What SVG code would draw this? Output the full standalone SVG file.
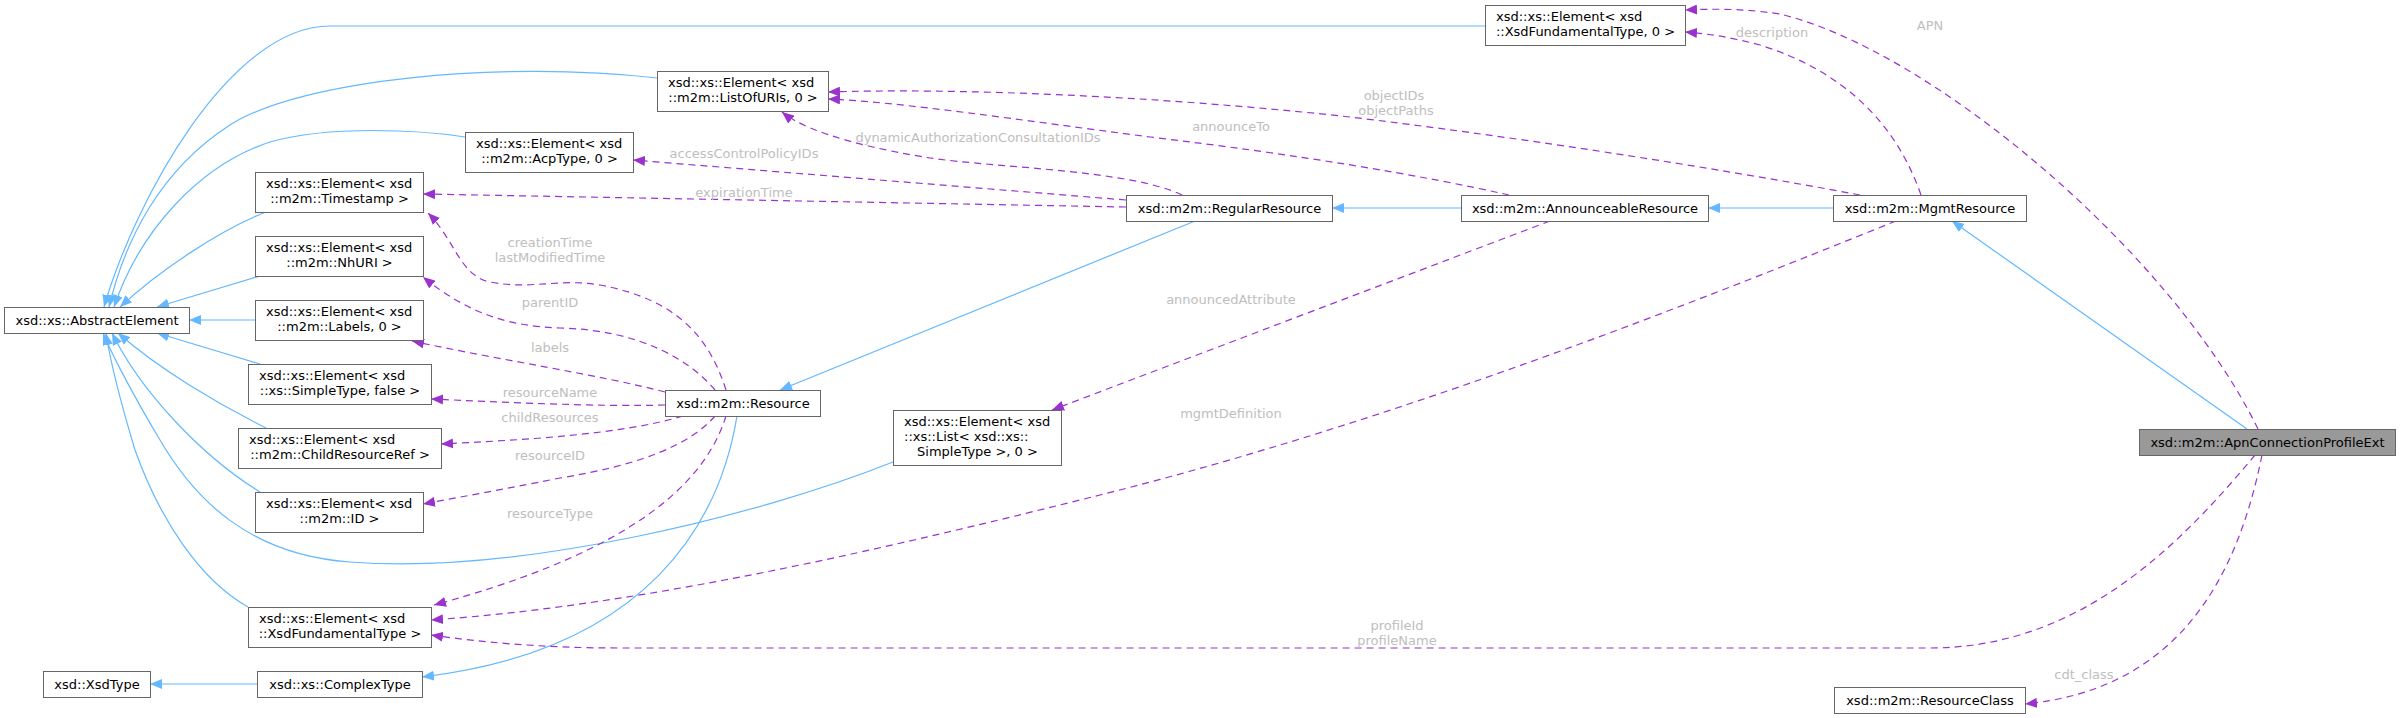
<svg xmlns="http://www.w3.org/2000/svg" width="2400" height="718" viewBox="0 0 2400 718">
<style>
.box{fill:#ffffff;stroke:#666666;stroke-width:1}
.cur{fill:#999999;stroke:#666666;stroke-width:1}
.t{font-family:"DejaVu Sans",sans-serif;font-size:13px;fill:#000000}
.m{text-anchor:middle}
.inh{fill:none;stroke:#63b8ff;stroke-width:1.2}
.use{fill:none;stroke:#9a32cd;stroke-width:1.2;stroke-dasharray:7,5}
.lbl{font-family:"DejaVu Sans",sans-serif;font-size:13px;fill:#bebebe;text-anchor:middle}
</style>
<defs>
<marker id="ab" viewBox="0 0 12 10" refX="12" refY="5" markerWidth="12" markerHeight="10" markerUnits="userSpaceOnUse" orient="auto"><path d="M0,0 L12,5 L0,10 z" fill="#63b8ff"/></marker>
<marker id="ap" viewBox="0 0 12 10" refX="12" refY="5" markerWidth="12" markerHeight="10" markerUnits="userSpaceOnUse" orient="auto"><path d="M0,0 L12,5 L0,10 z" fill="#9a32cd"/></marker>
</defs>
<rect width="2400" height="718" fill="#ffffff"/>
<g id="connectors">
<path class="inh" marker-end="url(#ab)" d="M1485,26 L330,26 C230,26 135,200 104,307"/>
<path class="inh" marker-end="url(#ab)" d="M657,78 C500,60 300,80 230,125 C160,170 125,240 109,307"/>
<path class="inh" marker-end="url(#ab)" d="M465,137 C420,130 330,125 270,142 C200,165 140,230 114,307"/>
<path class="inh" marker-end="url(#ab)" d="M266,212 C220,230 160,270 120,307"/>
<path class="inh" marker-end="url(#ab)" d="M260,276 L157,307"/>
<path class="inh" marker-end="url(#ab)" d="M255,320 L189,320"/>
<path class="inh" marker-end="url(#ab)" d="M260,364 L157,333"/>
<path class="inh" marker-end="url(#ab)" d="M266,428 C220,405 160,370 118,333"/>
<path class="inh" marker-end="url(#ab)" d="M260,492 C200,455 140,390 112,333"/>
<path class="inh" marker-end="url(#ab)" d="M248,607 C200,580 160,520 135,450 C120,400 110,360 106,333"/>
<path class="inh" marker-end="url(#ab)" d="M893,462 C760,515 520,575 350,562 C250,555 195,500 160,440 C130,390 110,350 103,333"/>
<path class="inh" marker-end="url(#ab)" d="M257,684 L150,684"/>
<path class="inh" marker-end="url(#ab)" d="M737,416 C720,520 650,650 422,677"/>
<path class="inh" marker-end="url(#ab)" d="M1195,221 L780,390"/>
<path class="inh" marker-end="url(#ab)" d="M1461,208 L1332,208"/>
<path class="inh" marker-end="url(#ab)" d="M1833,208 L1708,208"/>
<path class="inh" marker-end="url(#ab)" d="M2247,429 L1952,221"/>

<path class="use" marker-end="url(#ap)" d="M2258,429 C2170,250 1930,50 1780,14 C1740,8 1710,9 1685,10"/>
<path class="use" marker-end="url(#ap)" d="M1921,195 C1895,120 1840,70 1760,45 C1730,37 1710,34 1685,32"/>
<path class="use" marker-end="url(#ap)" d="M1860,195 C1700,165 1500,135 1350,117 C1150,95 950,88 828,92"/>
<path class="use" marker-end="url(#ap)" d="M1509,195 C1420,175 1300,155 1150,137 C1020,120 900,102 828,99"/>
<path class="use" marker-end="url(#ap)" d="M1182,195 C1130,170 1000,168 930,158 C880,150 810,135 782,112"/>
<path class="use" marker-end="url(#ap)" d="M1126,200 L633,160"/>
<path class="use" marker-end="url(#ap)" d="M1126,207 L423,194"/>
<path class="use" marker-end="url(#ap)" d="M726,390 C710,340 680,300 600,285 C560,278 530,290 490,282 C460,276 455,240 428,213"/>
<path class="use" marker-end="url(#ap)" d="M715,390 C690,360 640,330 560,328 C510,326 470,315 423,277"/>
<path class="use" marker-end="url(#ap)" d="M665,392 C600,375 500,360 412,341"/>
<path class="use" marker-end="url(#ap)" d="M665,405 C600,407 500,402 431,399"/>
<path class="use" marker-end="url(#ap)" d="M683,416 C620,435 520,440 441,444"/>
<path class="use" marker-end="url(#ap)" d="M715,416 C690,445 640,465 560,478 C500,490 460,497 423,504"/>
<path class="use" marker-end="url(#ap)" d="M726,416 C700,500 600,560 434,605"/>
<path class="use" marker-end="url(#ap)" d="M1896,221 C1700,300 1400,420 1100,495 C900,545 650,605 431,620"/>
<path class="use" marker-end="url(#ap)" d="M1550,221 L1052,410"/>
<path class="use" marker-end="url(#ap)" d="M2255,455 C2180,545 2080,648 1930,648 L620,648 C540,648 480,642 431,635"/>
<path class="use" marker-end="url(#ap)" d="M2262,455 C2235,590 2170,690 2025,704"/>
</g>
<g id="edge-labels">
<text class="lbl" x="1930" y="30">APN</text>
<text class="lbl" x="1772" y="37">description</text>
<text class="lbl" x="1394" y="100">objectIDs</text>
<text class="lbl" x="1396" y="115">objectPaths</text>
<text class="lbl" x="1231" y="131">announceTo</text>
<text class="lbl" x="978" y="142">dynamicAuthorizationConsultationIDs</text>
<text class="lbl" x="744" y="158">accessControlPolicyIDs</text>
<text class="lbl" x="744" y="197">expirationTime</text>
<text class="lbl" x="550" y="247">creationTime</text>
<text class="lbl" x="550" y="262">lastModifiedTime</text>
<text class="lbl" x="550" y="307">parentID</text>
<text class="lbl" x="550" y="352">labels</text>
<text class="lbl" x="550" y="397">resourceName</text>
<text class="lbl" x="550" y="422">childResources</text>
<text class="lbl" x="550" y="460">resourceID</text>
<text class="lbl" x="550" y="518">resourceType</text>
<text class="lbl" x="1231" y="304">announcedAttribute</text>
<text class="lbl" x="1231" y="418">mgmtDefinition</text>
<text class="lbl" x="1397" y="630">profileId</text>
<text class="lbl" x="1397" y="645">profileName</text>
<text class="lbl" x="2084" y="679">cdt_class</text>
</g>
<g id="n-AbstractElement"><rect class="box" x="4.5" y="307.5" width="185" height="26"/><text class="t m" x="97" y="325">xsd::xs::AbstractElement</text></g>
<g id="n-XsdFundamentalType0"><rect class="box" x="1485.5" y="5.5" width="200" height="40"/><text class="t" x="1496" y="21">xsd::xs::Element&lt; xsd</text><text class="t m" x="1585.5" y="36">::XsdFundamentalType, 0 &gt;</text></g>
<g id="n-ListOfURIs"><rect class="box" x="657.5" y="71.5" width="171" height="40"/><text class="t" x="668" y="87">xsd::xs::Element&lt; xsd</text><text class="t m" x="743" y="102">::m2m::ListOfURIs, 0 &gt;</text></g>
<g id="n-AcpType"><rect class="box" x="465.5" y="132.5" width="168" height="40"/><text class="t" x="476" y="148">xsd::xs::Element&lt; xsd</text><text class="t m" x="549.5" y="163">::m2m::AcpType, 0 &gt;</text></g>
<g id="n-Timestamp"><rect class="box" x="255.5" y="172.5" width="168" height="40"/><text class="t" x="266" y="188">xsd::xs::Element&lt; xsd</text><text class="t m" x="339.5" y="203">::m2m::Timestamp &gt;</text></g>
<g id="n-NhURI"><rect class="box" x="255.5" y="236.5" width="168" height="40"/><text class="t" x="266" y="252">xsd::xs::Element&lt; xsd</text><text class="t m" x="339.5" y="267">::m2m::NhURI &gt;</text></g>
<g id="n-Labels"><rect class="box" x="255.5" y="300.5" width="168" height="40"/><text class="t" x="266" y="316">xsd::xs::Element&lt; xsd</text><text class="t m" x="339.5" y="331">::m2m::Labels, 0 &gt;</text></g>
<g id="n-SimpleType"><rect class="box" x="248.5" y="364.5" width="183" height="40"/><text class="t" x="259" y="380">xsd::xs::Element&lt; xsd</text><text class="t m" x="340" y="395">::xs::SimpleType, false &gt;</text></g>
<g id="n-ChildResourceRef"><rect class="box" x="238.5" y="428.5" width="203" height="40"/><text class="t" x="249" y="444">xsd::xs::Element&lt; xsd</text><text class="t m" x="340" y="459">::m2m::ChildResourceRef &gt;</text></g>
<g id="n-ID"><rect class="box" x="255.5" y="492.5" width="168" height="40"/><text class="t" x="266" y="508">xsd::xs::Element&lt; xsd</text><text class="t m" x="339.5" y="523">::m2m::ID &gt;</text></g>
<g id="n-XsdFundamentalType"><rect class="box" x="248.5" y="607.5" width="183" height="40"/><text class="t" x="259" y="623">xsd::xs::Element&lt; xsd</text><text class="t m" x="340" y="638">::XsdFundamentalType &gt;</text></g>
<g id="n-XsdType"><rect class="box" x="43.5" y="671.5" width="107" height="26"/><text class="t m" x="97" y="689">xsd::XsdType</text></g>
<g id="n-ComplexType"><rect class="box" x="257.5" y="671.5" width="165" height="26"/><text class="t m" x="340" y="689">xsd::xs::ComplexType</text></g>
<g id="n-Resource"><rect class="box" x="665.5" y="390.5" width="155" height="26"/><text class="t m" x="743" y="408">xsd::m2m::Resource</text></g>
<g id="n-RegularResource"><rect class="box" x="1126.5" y="195.5" width="206" height="26"/><text class="t m" x="1229.5" y="213">xsd::m2m::RegularResource</text></g>
<g id="n-AnnounceableResource"><rect class="box" x="1461.5" y="195.5" width="247" height="26"/><text class="t m" x="1585" y="213">xsd::m2m::AnnounceableResource</text></g>
<g id="n-MgmtResource"><rect class="box" x="1833.5" y="195.5" width="193" height="26"/><text class="t m" x="1930" y="213">xsd::m2m::MgmtResource</text></g>
<g id="n-List"><rect class="box" x="893.5" y="410.5" width="168" height="55"/><text class="t" x="904" y="426">xsd::xs::Element&lt; xsd</text><text class="t" x="904" y="441">::xs::List&lt; xsd::xs::</text><text class="t m" x="977.5" y="456">SimpleType &gt;, 0 &gt;</text></g>
<g id="n-ApnConnectionProfileExt"><rect class="cur" x="2139.5" y="429.5" width="256" height="26"/><text class="t m" x="2267.5" y="447">xsd::m2m::ApnConnectionProfileExt</text></g>
<g id="n-ResourceClass"><rect class="box" x="1834.5" y="687.5" width="191" height="26"/><text class="t m" x="1930" y="705">xsd::m2m::ResourceClass</text></g>
</svg>
